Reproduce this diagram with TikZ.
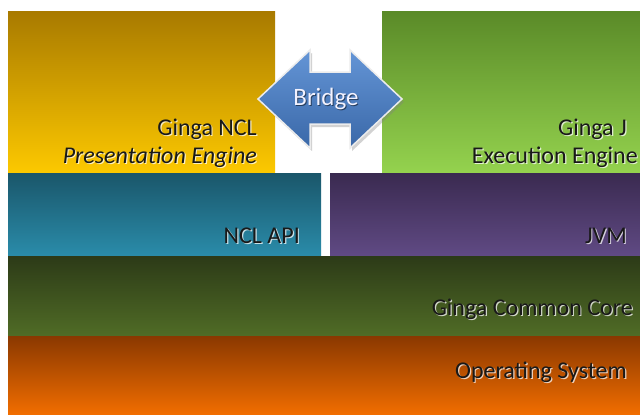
\documentclass[tikz,border=0pt]{standalone}
\usepackage{fontspec}
\setmainfont{Carlito}
\usetikzlibrary{shadows}
\definecolor{ncltop}{HTML}{A87A00}
\definecolor{nclbot}{HTML}{FCC800}
\definecolor{jtop}{HTML}{5A8A28}
\definecolor{jbot}{HTML}{94D24E}
\definecolor{apitop}{HTML}{1A566A}
\definecolor{apibot}{HTML}{2A8CAA}
\definecolor{jvmtop}{HTML}{3A2A50}
\definecolor{jvmbot}{HTML}{604A84}
\definecolor{coretop}{HTML}{2C3A17}
\definecolor{corebot}{HTML}{506C26}
\definecolor{ostop}{HTML}{8A3800}
\definecolor{osbot}{HTML}{F26E00}
\definecolor{bridgetop}{HTML}{6495D6}
\definecolor{bridgebot}{HTML}{3A68A8}
\newcommand{\lbl}[4][]{%
  \node[lbl,text=white,opacity=0.75,#1] at ([shift={(1.2,1.2)}]#3) {#4};
  \node[lbl,#1] (#2) at (#3) {#4};}
\begin{document}
\begin{tikzpicture}[x=1pt,y=-1pt,
  lbl/.style={anchor=base east,inner sep=0pt,font=\fontsize{24}{26}\selectfont,text=black!90}]
\pgfmathsetmacro{\kl}{8}
\pgfmathsetmacro{\kr}{640}
\pgfmathsetmacro{\ka}{11}
\pgfmathsetmacro{\kb}{172}
\pgfmathsetmacro{\kc}{256}
\pgfmathsetmacro{\kd}{336}
\useasboundingbox (0,0) rectangle (640,415);
\fill[white] (0,0) rectangle (640,415);
%engines
\shade[top color=ncltop,bottom color=nclbot](\kl,\ka) rectangle (275,\kb);
\shade[top color=jtop,bottom color=jbot](382,\ka) rectangle (\kr,\kb);
%api and jvm
\shade[top color=apitop,bottom color=apibot](\kl,\kb+1) rectangle (321,\kc);
\shade[top color=jvmtop,bottom color=jvmbot](330,\kb+1) rectangle (\kr,\kc);
%common core and os
\shade[top color=coretop,bottom color=corebot](\kl,\kc) rectangle (\kr,\kd);
\shade[top color=ostop,bottom color=osbot](\kl,\kd) rectangle (\kr,415);
%bridge
\shade[top color=bridgetop,bottom color=bridgebot,draw=white!85!gray,line width=1.5pt,
  drop shadow={shadow xshift=2pt,shadow yshift=-3pt,opacity=0.35}]
  (258,99)--(310,50)--(310,72)--(350,72)--(350,50)--(402,99)--(350,148)--(350,124)
  --(310,124)--(310,148)--cycle;
\node[font=\fontsize{25}{27}\selectfont,text=black,opacity=0.5,anchor=base] at (327,106) {Bridge};
\node[font=\fontsize{25}{27}\selectfont,text=white!95!blue,anchor=base] (bridge) at (326,105) {Bridge};
%labels
\lbl{ncl}{257,135}{Ginga NCL}
\lbl[font=\fontsize{24}{26}\selectfont\itshape]{pres}{257,163}{Presentation Engine}
\lbl{gj}{627,135}{Ginga J}
\lbl{exec}{638,163}{Execution Engine}
\lbl{api}{300,243}{NCL API}
\lbl{jvm}{627,243}{JVM}
\lbl{core}{633,315}{Ginga Common Core}
\lbl{os}{627,378}{Operating System}
\end{tikzpicture}
\end{document}
